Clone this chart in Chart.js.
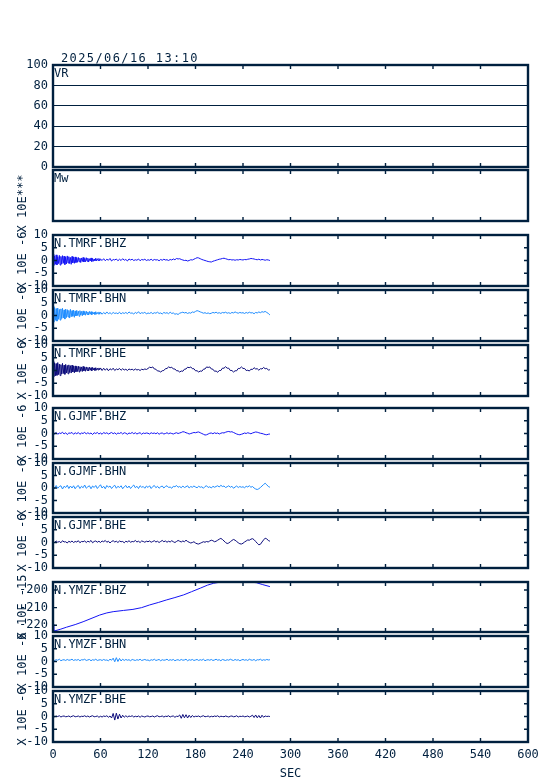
<!DOCTYPE html>
<html><head><meta charset="utf-8">
<script src="https://cdn.jsdelivr.net/npm/chart.js@4"></script>
<style>html,body{margin:0;padding:0;background:#fff}#wrap{width:554px;height:781px;position:relative}</style>
</head><body><div id="wrap"><canvas id="c" width="554" height="781"></canvas></div>
<script>
// ---------- DATA ----------
const DATE_TEXT = '2025/06/16 13:10';
const X_TITLE = 'SEC';
const X_TICKS = [0, 60, 120, 180, 240, 300, 360, 420, 480, 540, 600];
const VR_TICKS = [0, 20, 40, 60, 80, 100];
const WAVE_TICKS = [-10, -5, 0, 5, 10];
const YMZ_BHZ_TICKS = [-220, -210, -200];
const PANEL_NAMES = ['VR', 'Mw', 'N.TMRF.BHZ', 'N.TMRF.BHN', 'N.TMRF.BHE', 'N.GJMF.BHZ', 'N.GJMF.BHN', 'N.GJMF.BHE', 'N.YMZF.BHZ', 'N.YMZF.BHN', 'N.YMZF.BHE'];
const AXIS_TITLES = ['', 'X 10E***', 'X 10E -6', 'X 10E -6', 'X 10E -6', 'X 10E -6', 'X 10E -6', 'X 10E -6', 'X 10E -15', 'X 10E -6', 'X 10E -6'];

// time samples (s) for the TMRF traces (denser during the first minute)
const SEC_TMRF = [0,1,2,3,4,5,6,7,8,9,10,11,12,13,14,15,16,17,18,19,20,21,22,23,24,25,26,27,28,29,
  30,31,32,33,34,35,36,37,38,39,40,41,42,43,44,45,46,47,48,49,50,51,52,53,54,55,56,57,58,59,
  60,62,64,66,68,70,72,74,76,78,80,82,84,86,88,90,92,94,96,98,100,102,104,106,108,110,112,114,116,118,
  120,122,124,126,128,130,132,134,136,138,140,142,144,146,148,150,152,154,156,158,160,162,164,166,168,170,172,174,176,178,
  180,182,184,186,188,190,192,194,196,198,200,202,204,206,208,210,212,214,216,218,220,222,224,226,228,230,232,234,236,238,
  240,242,244,246,248,250,252,254,256,258,260,262,264,266,268,270,272,274];
// time samples (s) for the GJMF / YMZF horizontal traces
const SEC = [0,2,4,6,8,10,12,14,16,18,20,22,24,26,28,30,32,34,36,38,40,42,44,46,48,50,52,54,56,58,
  60,62,64,66,68,70,72,74,76,78,80,82,84,86,88,90,92,94,96,98,100,102,104,106,108,110,112,114,116,118,
  120,122,124,126,128,130,132,134,136,138,140,142,144,146,148,150,152,154,156,158,160,162,164,166,168,170,172,174,176,178,
  180,182,184,186,188,190,192,194,196,198,200,202,204,206,208,210,212,214,216,218,220,222,224,226,228,230,232,234,236,238,
  240,242,244,246,248,250,252,254,256,258,260,262,264,266,268,270,272,274];

const TMRF_BHZ = [2.4,-1.9,1.8,-1.5,2.2,-1.7,1.5,-1.2,2.0,-1.8,1.6,-1.4,1.9,-1.1,1.7,-1.6,1.3,-1.3,1.8,-1.0,1.5,-1.2,1.2,-1.5,1.6,-0.9,1.3,-1.1,1.4,-0.8,
  1.1,-0.7,1.2,-0.5,0.9,-0.8,1.0,-0.4,1.2,-0.6,0.8,-0.5,1.1,-0.3,0.9,-0.6,0.7,-0.2,1.0,-0.4,0.8,-0.3,0.6,-0.1,0.9,-0.2,0.7,0.0,0.8,-0.1,
  0.6,0.0,0.7,-0.1,0.5,0.1,0.8,-0.2,0.4,0.2,0.6,-0.1,0.5,0.0,0.7,0.1,0.4,-0.2,0.6,0.2,0.5,0.0,0.3,0.1,0.6,-0.1,0.4,0.2,0.5,0.0,
  0.3,0.1,0.5,0.0,0.4,0.2,0.3,-0.1,0.4,0.1,0.5,0.2,0.3,0.0,0.4,0.2,0.6,0.3,0.8,0.6,0.7,0.4,0.2,0.0,0.1,-0.2,0.0,0.3,0.2,0.5,
  0.8,1.1,1.0,0.7,0.4,0.2,0.0,-0.2,-0.4,-0.5,-0.6,-0.3,-0.1,0.1,0.3,0.5,0.6,0.8,0.9,0.7,0.5,0.3,0.4,0.2,0.3,0.1,0.3,0.2,0.4,0.3,
  0.2,0.4,0.3,0.5,0.6,0.8,0.7,0.6,0.4,0.3,0.5,0.2,0.4,0.3,0.1,0.3,0.2,0.0];
const TMRF_BHN = [3.6,-2.6,3.1,-1.9,2.7,-2.2,2.9,-1.5,2.4,-1.8,2.6,-1.2,2.8,-1.0,2.2,-1.4,2.5,-0.8,2.3,-0.6,2.0,-1.0,2.4,-0.5,1.9,-0.3,2.1,-0.7,1.8,-0.2,
  2.0,0.0,1.7,-0.3,1.9,0.2,1.6,-0.1,1.8,0.3,1.5,0.1,1.7,0.4,1.4,0.2,1.6,0.5,1.5,0.3,1.4,0.6,1.3,0.4,1.5,0.5,1.2,0.6,1.4,0.5,
  1.3,0.5,1.2,0.6,1.4,0.7,1.1,0.6,1.2,0.8,1.0,0.7,1.3,0.6,1.1,0.8,1.2,0.7,1.4,0.9,1.0,0.6,1.2,0.8,1.5,0.7,1.1,0.9,1.3,0.6,
  1.0,0.8,1.2,0.7,1.1,0.9,1.3,0.8,1.0,0.6,1.2,0.9,1.1,0.7,1.3,0.8,1.0,0.5,0.7,0.4,0.9,1.1,1.3,1.0,1.2,0.8,1.1,0.9,1.4,1.2,
  1.6,1.9,1.7,1.4,1.2,0.9,1.1,0.8,1.0,0.7,0.9,1.2,1.0,1.3,0.9,1.1,0.8,1.2,1.0,1.3,0.9,1.1,0.8,1.2,1.0,1.4,1.1,0.9,1.2,1.0,
  1.1,0.8,1.2,0.9,1.3,1.0,1.1,0.7,1.2,1.0,1.4,1.1,1.5,1.3,1.6,1.2,0.8,0.2];
const TMRF_BHE = [3.5,-2.4,3.0,-2.1,2.7,-1.9,3.1,-1.6,2.5,-2.0,2.3,-1.4,2.8,-1.2,2.1,-1.5,2.4,-1.0,2.0,-1.3,2.2,-0.8,1.9,-1.0,2.1,-0.6,1.7,-0.9,1.8,-0.5,
  1.6,-0.4,1.7,-0.6,1.5,-0.2,1.4,-0.4,1.6,-0.1,1.3,-0.3,1.4,0.0,1.2,-0.2,1.3,0.1,1.1,-0.1,1.2,0.2,1.0,0.0,1.1,0.1,0.9,0.2,1.0,0.3,
  1.0,0.0,0.9,0.1,0.8,-0.1,0.7,0.2,0.9,0.0,0.6,0.3,0.8,0.1,0.7,0.2,0.5,0.0,0.6,0.3,0.5,0.1,0.6,0.2,0.4,0.0,0.5,0.3,0.6,0.4,
  0.8,1.3,1.1,1.4,0.6,0.5,-0.2,-0.2,-0.6,-0.1,0.0,0.7,0.8,1.4,1.1,1.3,0.6,0.6,-0.1,-0.1,-0.6,-0.2,-0.3,0.5,0.6,1.3,1.1,1.4,0.7,0.7,
  -0.1,-0.1,-0.6,-0.2,-0.3,0.5,0.6,1.4,1.2,1.4,0.6,0.5,-0.3,-0.2,-0.7,0.0,0.0,0.9,0.9,1.5,0.9,0.9,0.0,0.0,-0.6,-0.1,-0.1,0.8,0.8,1.4,
  0.8,0.8,0.0,0.1,-0.2,0.5,0.4,1.1,0.6,0.7,0.1,0.7,0.6,1.2,0.7,0.8,0.2,0.3];
const GJMF_BHZ = [0.3,-0.2,0.4,-0.3,0.2,0.0,0.5,-0.2,0.3,-0.4,0.2,0.1,0.4,-0.3,0.3,
  -0.1,0.4,-0.3,0.2,0.0,0.5,-0.2,0.3,-0.1,0.2,-0.4,0.3,0.0,0.4,-0.2,
  0.2,-0.3,0.4,0.0,0.3,-0.2,0.1,0.4,-0.1,0.3,-0.3,0.2,0.0,0.4,-0.2,0.3,0.1,-0.3,0.2,0.0,0.4,-0.1,0.3,-0.2,0.1,0.3,-0.3,0.2,0.0,0.2,
  0.1,-0.2,0.3,0.0,0.2,-0.1,0.3,-0.3,0.1,0.2,-0.2,0.0,0.3,-0.1,0.2,0.0,-0.2,0.1,0.3,0.0,0.2,0.4,0.7,0.6,0.3,0.1,-0.2,0.0,0.2,0.4,
  0.3,0.5,0.6,0.3,0.0,-0.3,-0.6,-0.5,-0.2,0.1,0.2,-0.1,0.3,0.0,0.2,-0.2,0.1,0.3,0.2,0.5,0.7,0.8,0.6,0.7,0.4,0.1,-0.2,-0.4,-0.5,-0.3,
  -0.1,0.2,0.0,0.3,0.1,-0.1,0.2,0.4,0.6,0.5,0.3,0.1,0.0,-0.2,-0.4,-0.5,-0.3,-0.2];
const GJMF_BHN = [0.8,-0.3,1.0,-0.1,0.6,0.9,-0.4,0.7,0.2,1.1,-0.2,0.8,0.0,0.9,-0.3,
  0.6,1.0,-0.2,0.7,0.1,1.2,-0.1,0.5,0.9,-0.3,0.8,0.2,1.0,-0.2,0.6,
  1.3,0.0,0.7,-0.3,1.0,0.3,0.8,-0.2,0.6,1.1,-0.1,0.7,0.2,0.9,-0.3,0.5,1.0,0.0,0.8,-0.2,0.6,1.2,0.1,0.7,-0.2,0.9,0.3,0.6,-0.1,0.8,
  0.2,0.9,-0.2,0.6,1.0,0.1,0.7,-0.1,0.5,0.8,0.0,0.6,0.9,0.2,0.4,-0.1,0.7,0.5,1.0,0.3,0.6,0.1,0.8,0.2,0.5,0.9,0.0,0.6,0.3,0.8,
  0.4,0.1,0.7,0.3,0.5,-0.1,0.6,0.9,0.2,0.5,0.0,0.7,0.3,0.6,0.9,0.4,1.1,0.6,0.8,0.2,0.5,0.9,0.3,0.7,-0.1,0.4,0.8,0.2,0.6,0.3,
  0.5,0.1,0.7,0.4,0.9,0.3,0.6,0.0,-0.4,-0.6,-0.3,0.2,0.8,1.4,1.9,1.3,0.6,0.3];
const GJMF_BHE = [0.5,0.0,0.6,0.1,0.4,-0.1,0.7,0.2,0.3,-0.2,0.5,0.1,0.6,0.0,0.4,
  0.2,0.7,-0.1,0.4,0.3,0.6,0.0,0.5,0.2,0.8,-0.1,0.4,0.6,0.1,0.5,
  0.0,0.6,0.3,0.8,0.1,0.5,-0.2,0.4,0.7,0.2,0.5,0.0,0.6,0.3,0.4,-0.1,0.5,0.2,0.7,0.1,0.4,0.3,0.8,0.2,0.5,0.0,0.6,0.4,0.1,0.5,
  0.3,0.6,0.1,0.4,0.7,0.2,0.5,0.0,0.4,0.8,0.3,0.6,0.1,0.5,0.2,0.7,0.3,0.0,0.4,0.8,0.5,0.2,0.6,0.3,0.9,0.4,0.1,-0.2,0.0,0.3,
  -0.2,-0.5,-0.6,-0.3,0.0,0.3,0.1,0.4,0.2,0.6,0.9,0.7,0.3,0.5,0.9,1.3,1.6,1.2,0.6,0.0,-0.4,-0.2,0.3,0.8,1.2,0.9,0.4,-0.1,-0.5,-0.6,
  -0.3,0.2,0.6,1.0,0.9,1.3,1.5,1.1,0.4,-0.3,-0.9,-0.7,0.2,1.0,1.7,1.4,0.8,0.5];
const YMZF_BHN = [0.8,0.4,0.7,0.5,0.9,0.3,0.6,0.7,0.4,0.8,0.5,0.6,0.9,0.4,0.7,
  0.5,0.8,0.3,0.7,0.6,0.9,0.4,0.6,0.8,0.3,0.7,0.5,0.9,0.4,0.6,
  0.7,0.4,0.8,0.5,0.6,0.3,0.9,0.5,1.3,-0.1,1.5,0.0,1.2,0.2,0.9,0.4,0.8,0.5,0.7,0.3,0.8,0.6,0.4,0.7,0.5,0.9,0.4,0.6,0.8,0.5,
  0.6,0.3,0.7,0.5,0.9,0.4,0.6,0.8,0.3,0.7,0.5,0.6,0.9,0.4,0.7,0.5,0.8,0.3,0.6,0.7,0.4,0.8,0.5,0.6,0.9,0.3,0.7,0.5,0.8,0.4,
  0.6,0.8,0.4,0.7,0.5,0.9,0.3,0.6,0.7,0.5,0.8,0.4,0.6,0.9,0.5,0.7,0.3,0.8,0.6,0.4,0.7,0.5,0.9,0.6,0.4,0.8,0.5,0.7,0.3,0.6,
  0.8,0.5,0.7,0.4,0.9,0.6,0.5,0.8,0.3,0.7,0.6,0.9,0.4,0.7,0.5,0.8,0.6,0.7];
const YMZF_BHE = [0.2,-0.1,0.1,0.0,0.3,-0.2,0.1,0.2,-0.1,0.0,0.2,-0.2,0.1,0.3,-0.1,
  0.0,0.2,-0.2,0.1,0.0,0.3,-0.1,0.2,-0.2,0.1,0.3,-0.1,0.0,0.2,-0.3,
  0.1,-0.2,0.2,0.0,0.3,-0.3,0.2,-0.6,1.2,-1.4,1.3,-1.0,0.9,-0.6,0.5,-0.3,0.3,-0.2,0.2,0.0,0.3,-0.2,0.1,-0.1,0.2,-0.3,0.2,0.0,-0.2,0.1,
  0.2,-0.1,0.0,0.2,-0.2,0.1,0.3,-0.1,0.0,0.2,-0.2,0.1,0.0,0.3,-0.2,0.1,0.2,-0.3,0.1,0.0,0.6,-0.7,0.8,-0.5,0.7,-0.6,0.5,-0.4,0.4,-0.2,
  0.1,0.0,0.2,-0.2,0.1,0.3,-0.1,0.0,0.2,-0.2,0.1,-0.1,0.2,0.0,0.3,-0.2,0.1,0.0,-0.1,0.2,0.0,-0.2,0.1,0.2,-0.1,0.0,0.3,-0.2,0.1,0.0,
  0.2,-0.1,0.0,0.2,-0.2,0.1,0.5,-0.4,0.6,-0.5,0.4,-0.6,0.5,-0.3,0.2,0.0,0.1,0.0];

const SEC_YMZF_BHZ = [0,1,9,17,28,38,48,59,68,76,89,101,112,122,133,143,154,165,175,186,195,203,211,220,230,240,250,257,265,274];
const YMZF_BHZ = [-219.5,-223.3,-222.3,-221.1,-219.6,-218.0,-216.2,-214.2,-213.0,-212.3,-211.6,-211.0,-210.0,-208.5,-207.1,-205.7,-204.3,-202.8,-201.0,-199.0,-197.3,-196.2,-195.6,-195.6,-195.6,-195.6,-195.6,-195.9,-197.0,-198.1];

// ---------- STYLE ----------
const INK = '#00203f';
const C_Z = '#1414f5', C_N = '#1e8cff', C_E = '#0c0c7c';
const FONT_FAMILY = '"DejaVu Sans Mono", monospace';
Chart.defaults.font.family = FONT_FAMILY;
Chart.defaults.font.size = 12;
Chart.defaults.color = INK;

// panel stack (top -> bottom); heights in px-weights, gaps as spacer axes
const STACK = [
  {id:'vr', h:102}, {gap:3}, {id:'mw', h:51}, {gap:14},
  {id:'tz', h:51}, {gap:4}, {id:'tn', h:51}, {gap:4}, {id:'te', h:51}, {gap:12},
  {id:'gz', h:51}, {gap:4}, {id:'gn', h:50}, {gap:4}, {id:'ge', h:51}, {gap:14},
  {id:'yz', h:50}, {gap:4}, {id:'yn', h:51}, {gap:4}, {id:'ye', h:51}
];
const PANEL_IDS = ['vr','mw','tz','tn','te','gz','gn','ge','yz','yn','ye'];
const RANGES = {vr:[0,100], mw:[0,1], yz:[-223.8,-195.5]};
const TICKSETS = {vr:VR_TICKS, mw:[], yz:YMZ_BHZ_TICKS};
const TITLE_SHIFT = {mw: 8};

const TRACES = [
  {axis:'tz', sec:SEC_TMRF, val:TMRF_BHZ, color:C_Z},
  {axis:'tn', sec:SEC_TMRF, val:TMRF_BHN, color:C_N},
  {axis:'te', sec:SEC_TMRF, val:TMRF_BHE, color:C_E},
  {axis:'gz', sec:SEC, val:GJMF_BHZ, color:C_Z},
  {axis:'gn', sec:SEC, val:GJMF_BHN, color:C_N},
  {axis:'ge', sec:SEC, val:GJMF_BHE, color:C_E},
  {axis:'yz', sec:SEC_YMZF_BHZ, val:YMZF_BHZ, color:C_Z},
  {axis:'yn', sec:SEC, val:YMZF_BHN, color:C_N},
  {axis:'ye', sec:SEC, val:YMZF_BHE, color:C_E}
];

const scales = {
  x: {
    type:'linear', position:'bottom', min:0, max:600, weight:0,
    afterBuildTicks: s => { s.ticks = X_TICKS.map(v => ({value:v})); },
    afterFit: s => { s.height = 39; },
    grid:{display:false, drawTicks:false}, border:{display:false},
    ticks:{color:INK, padding:6, maxRotation:0, autoSkip:false},
    title:{display:true, text:X_TITLE, color:INK, padding:{top:0, bottom:0}}
  }
};
let w = 100, g = 0;
STACK.forEach(item => {
  if (item.gap) {
    scales['gap' + (g++)] = {
      type:'linear', position:'left', stack:'p', stackWeight:item.gap, weight:w--,
      min:0, max:1, afterFit: s => { s.width = 53; },
      grid:{display:false, drawTicks:false}, border:{display:false}, ticks:{display:false}
    };
  } else {
    const id = item.id;
    const rng = RANGES[id] || [-10, 10];
    const tk = TICKSETS[id] || WAVE_TICKS;
    scales[id] = {
      type:'linear', position:'left', stack:'p', stackWeight:item.h, weight:w--,
      min:rng[0], max:rng[1],
      afterBuildTicks: s => { s.ticks = tk.map(v => ({value:v})); },
      afterFit: s => { s.width = 53; },
      grid:{display:id === 'vr', color:INK, lineWidth:1, drawTicks:false},
      border:{display:false},
      ticks:{display:tk.length > 0, color:INK, padding:5, autoSkip:false}
    };
  }
});

const framePlugin = {
  id:'frames',
  afterDraw(chart) {
    const ctx = chart.ctx, ca = chart.chartArea, xs = chart.scales.x;
    ctx.save();
    PANEL_IDS.forEach((id, k) => {
      const s = chart.scales[id];
      const top = s.top, bot = s.bottom;
      ctx.strokeStyle = INK;
      ctx.lineWidth = 1.4;
      ctx.beginPath();
      X_TICKS.slice(1, -1).forEach(v => {
        const x = xs.getPixelForValue(v);
        ctx.moveTo(x, top); ctx.lineTo(x, top + 4);
        ctx.moveTo(x, bot); ctx.lineTo(x, bot - 4);
      });
      if (id !== 'vr' && id !== 'mw') {
        s.ticks.forEach(t => {
          const y = s.getPixelForValue(t.value);
          if (y < top + 3 || y > bot - 3) return;
          ctx.moveTo(ca.left, y); ctx.lineTo(ca.left + 4, y);
          ctx.moveTo(ca.right, y); ctx.lineTo(ca.right - 4, y);
        });
      }
      ctx.stroke();
      ctx.lineWidth = 2.4;
      ctx.strokeRect(ca.left, top, ca.right - ca.left, bot - top);
      ctx.fillStyle = INK;
      ctx.font = '12px ' + FONT_FAMILY;
      ctx.textAlign = 'left';
      ctx.textBaseline = 'alphabetic';
      ctx.fillText(PANEL_NAMES[k], ca.left + 1, top + 12);
      if (AXIS_TITLES[k]) {
        ctx.save();
        ctx.translate(23, (top + bot) / 2 + (TITLE_SHIFT[id] || 0));
        ctx.rotate(-Math.PI / 2);
        ctx.textAlign = 'center';
        ctx.textBaseline = 'middle';
        ctx.fillText(AXIS_TITLES[k], 0, 0);
        ctx.restore();
      }
    });
    ctx.fillStyle = INK;
    ctx.font = '12px ' + FONT_FAMILY;
    ctx.textAlign = 'left';
    ctx.textBaseline = 'alphabetic';
    ctx.letterSpacing = '1.4px';
    ctx.fillText(DATE_TEXT, 61, 62);
    ctx.letterSpacing = '0px';
    ctx.restore();
  }
};

new Chart(document.getElementById('c'), {
  type:'line',
  data:{
    datasets: TRACES.map(t => ({
      data: t.sec.map((s, j) => ({x:s, y:t.val[j]})),
      xAxisID:'x', yAxisID:t.axis,
      borderColor:t.color, borderWidth:1, pointRadius:0, tension:0, fill:false
    }))
  },
  options:{
    responsive:false, animation:false, events:[],
    layout:{padding:{top:65, left:0, right:26, bottom:0}},
    plugins:{legend:{display:false}, tooltip:{enabled:false}},
    scales
  },
  plugins:[framePlugin]
});
</script></body></html>
